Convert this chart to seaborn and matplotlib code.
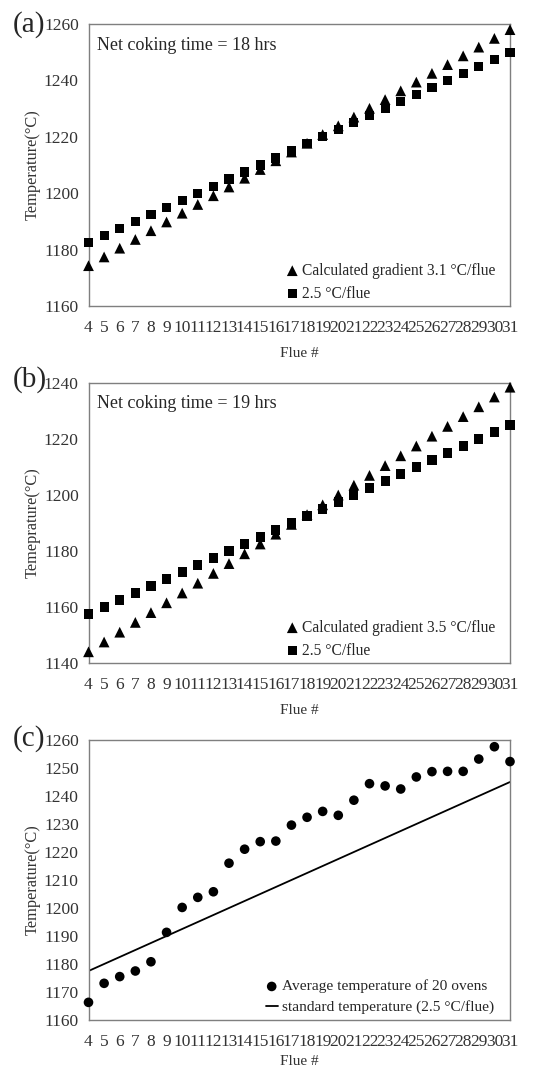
import numpy as np
import pandas as pd
import matplotlib
matplotlib.use("Agg")
import matplotlib.pyplot as plt
import seaborn as sns

# ---------------- data ----------------
flues = list(range(4, 32))

a_calc = [1174.3, 1177.4, 1180.5, 1183.6, 1186.7, 1189.8, 1192.9, 1196.0, 1199.1, 1202.2,
          1205.3, 1208.4, 1211.5, 1214.6, 1217.7, 1220.8, 1223.9, 1227.0, 1230.1, 1233.2,
          1236.3, 1239.4, 1242.5, 1245.6, 1248.7, 1251.8, 1254.9, 1258.0]
a_std = [1182.5, 1185.0, 1187.5, 1190.0, 1192.5, 1195.0, 1197.5, 1200.0, 1202.5, 1205.0,
         1207.5, 1210.0, 1212.5, 1215.0, 1217.5, 1220.0, 1222.5, 1225.0, 1227.5, 1230.0,
         1232.5, 1235.0, 1237.5, 1240.0, 1242.5, 1245.0, 1247.5, 1250.0]

b_calc = [1144.0, 1147.5, 1151.0, 1154.5, 1158.0, 1161.5, 1165.0, 1168.5, 1172.0, 1175.5,
          1179.0, 1182.5, 1186.0, 1189.5, 1193.0, 1196.5, 1200.0, 1203.5, 1207.0, 1210.5,
          1214.0, 1217.5, 1221.0, 1224.5, 1228.0, 1231.5, 1235.0, 1238.5]
b_std = [1157.5, 1160.0, 1162.5, 1165.0, 1167.5, 1170.0, 1172.5, 1175.0, 1177.5, 1180.0,
         1182.5, 1185.0, 1187.5, 1190.0, 1192.5, 1195.0, 1197.5, 1200.0, 1202.5, 1205.0,
         1207.5, 1210.0, 1212.5, 1215.0, 1217.5, 1220.0, 1222.5, 1225.0]

c_avg = [1166.3, 1173.1, 1175.5, 1177.5, 1180.8, 1191.3, 1200.2, 1203.8, 1205.8, 1216.0,
         1221.0, 1223.7, 1223.9, 1229.6, 1232.4, 1234.5, 1233.1, 1238.5, 1244.4, 1243.6,
         1242.5, 1246.8, 1248.7, 1248.8, 1248.8, 1253.2, 1257.6, 1252.3]
c_std = [1177.5, 1180.0, 1182.5, 1185.0, 1187.5, 1190.0, 1192.5, 1195.0, 1197.5, 1200.0,
         1202.5, 1205.0, 1207.5, 1210.0, 1212.5, 1215.0, 1217.5, 1220.0, 1222.5, 1225.0,
         1227.5, 1230.0, 1232.5, 1235.0, 1237.5, 1240.0, 1242.5, 1245.0]

xtick_labels = [str(f) for f in flues]
panel_labels = ["(a)", "(b)", "(c)"]
notes = ["Net coking time = 18 hrs", "Net coking time = 19 hrs"]
leg_calc = ["Calculated gradient 3.1 \u00b0C/flue", "Calculated gradient 3.5 \u00b0C/flue"]
leg_std = "2.5 \u00b0C/flue"
leg_avg = "Average temperature of 20 ovens"
leg_line = "standard temperature (2.5 \u00b0C/flue)"
ylabels = ["Temperature(\u00b0C)", "Temeprature(\u00b0C)", "Temperature(\u00b0C)"]
ylims = [(1160, 1260), (1140, 1240), (1160, 1260)]
ysteps = [20, 20, 10]

# ---------------- style ----------------
sns.set_style("white")
plt.rcParams["font.family"] = ["Liberation Serif", "DejaVu Serif"]

W, H = 555, 1069
fig = plt.figure(figsize=(W / 100, H / 100), dpi=100)

left = 88.5 / W
width = (510 - 88.5) / W
tops = [24, 383, 740]
bottoms = [306, 663, 1020]
label_y = [25, 380, 739]
xlabelpads = [8, 8, 4]

tick_col = "#333333"
axes = []
for i in range(3):
    ax = fig.add_axes([left, 1 - bottoms[i] / H, width, (bottoms[i] - tops[i]) / H])
    axes.append(ax)

def style_axis(ax, i):
    for s in ax.spines.values():
        s.set_color("#7f7f7f")
        s.set_linewidth(1.0)
    ax.set_xlim(4, 31)
    ax.set_ylim(*ylims[i])
    ax.set_xticks(flues)
    ax.set_xticklabels(xtick_labels)
    ax.set_yticks(np.arange(ylims[i][0], ylims[i][1] + 1, ysteps[i]))
    ax.tick_params(axis="both", length=0, labelsize=12.5, colors=tick_col)
    ax.tick_params(axis="x", pad=10)
    ax.tick_params(axis="y", pad=7)
    ax.set_xlabel("Flue #", fontsize=11, color=tick_col, labelpad=xlabelpads[i])
    ax.set_ylabel(ylabels[i], fontsize=11.8, color=tick_col, labelpad=2)
    fig.text(13 / W, 1 - label_y[i] / H, panel_labels[i], fontsize=21, va="center", ha="left")

# panels (a), (b)
for i, (calc, std) in enumerate([(a_calc, a_std), (b_calc, b_std)]):
    ax = axes[i]
    df = pd.DataFrame({"flue": flues, "calc": calc, "std": std})
    sns.scatterplot(data=df, x="flue", y="calc", marker="^", s=60, color="black",
                    edgecolor="none", ax=ax, label=leg_calc[i], clip_on=False, zorder=3)
    sns.scatterplot(data=df, x="flue", y="std", marker="s", s=44, color="black",
                    edgecolor="none", ax=ax, label=leg_std, clip_on=False, zorder=3)
    style_axis(ax, i)
    ax.text(0.02, 0.925, notes[i], transform=ax.transAxes, fontsize=13,
            va="center", ha="left")
    ax.legend(loc="lower left", frameon=False, fontsize=11.2, handletextpad=0.15,
              labelspacing=0.45, handlelength=1.0, borderaxespad=0.0, borderpad=0.0,
              bbox_to_anchor=(0.465, 0.015))

# panel (c)
ax = axes[2]
dfc = pd.DataFrame({"flue": flues, "avg": c_avg, "std": c_std})
sns.scatterplot(data=dfc, x="flue", y="avg", marker="o", s=48, color="black",
                edgecolor="none", ax=ax, label=leg_avg, clip_on=False, zorder=3)
sns.lineplot(data=dfc, x="flue", y="std", color="black", linewidth=1.3, ax=ax,
             label=leg_line)
style_axis(ax, 2)
leg = ax.legend(loc="lower left", frameon=False, fontsize=11.1, handletextpad=0.3,
                labelspacing=0.45, handlelength=0.8, borderaxespad=0.0, borderpad=0.0,
                bbox_to_anchor=(0.42, 0.02))

fig.savefig("out.png", dpi=100)
